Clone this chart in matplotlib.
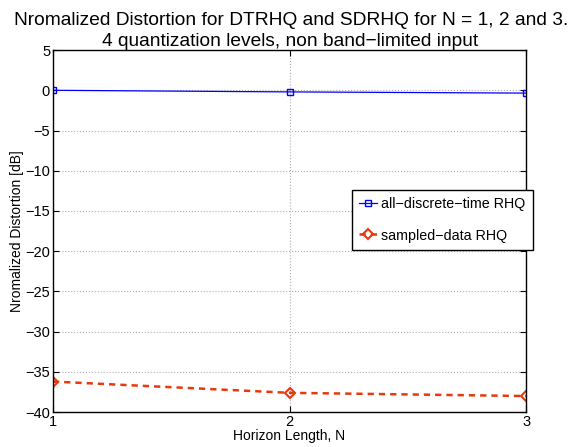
import numpy as np
import matplotlib
matplotlib.use("Agg")
import matplotlib.pyplot as plt

plt.rcParams['font.family'] = ['Liberation Sans', 'DejaVu Sans']

horizon = [1, 2, 3]
dt_rhq = [0.0, -0.2, -0.35]
sd_rhq = [-36.2, -37.6, -38.0]
yticks = np.arange(-40, 6, 5)
title_lines = ['Nromalized Distortion for DTRHQ and SDRHQ for N = 1, 2 and 3.',
               '4 quantization levels, non band\u2212limited input']

fig = plt.figure(figsize=(5.75, 4.47), dpi=100)
ax = fig.add_axes([0.092, 0.078, 0.823, 0.81])

ax.plot(horizon, dt_rhq, color='blue', lw=0.9, marker='s', ms=4,
        mfc='none', mec='blue', mew=1.0, label='all\u2212discrete\u2212time RHQ')
ax.plot(horizon, sd_rhq, color='#e8380d', lw=1.8, ls=(0, (2.5, 2)), marker='D',
        ms=5, mfc='none', mec='#e8380d', mew=1.5, label='sampled\u2212data RHQ')

ax.set_xlim(1, 3)
ax.set_ylim(-40, 5)
ax.set_xticks(horizon)
ax.set_yticks(yticks)
ax.set_yticklabels([str(v).replace('-', '\u2212') for v in yticks])
ax.grid(True, ls=':', color='#b0b0b0', lw=0.8)
ax.tick_params(direction='in', length=4, labelsize=10.5, pad=2, top=True, right=True)
for s in ax.spines.values():
    s.set_linewidth(1.0)

ax.set_xlabel('Horizon Length, N', fontsize=10, labelpad=0)
ax.set_ylabel('Nromalized Distortion [dB]', fontsize=10, labelpad=1)

# two title lines as separate texts (baselines at ~25 px and ~46 px from top)
fig.text(0.507, 1 - 25 / 447, title_lines[0], fontsize=13.8, ha='center', va='baseline')
fig.text(0.505, 1 - 46 / 447, title_lines[1], fontsize=13.8, ha='center', va='baseline')

leg = ax.legend(loc='upper left', bbox_to_anchor=(0.632, 0.613), fontsize=10.3,
                frameon=True, fancybox=False, framealpha=1, edgecolor='black',
                handlelength=1.25, handletextpad=0.3, borderpad=0.5,
                labelspacing=1.2, borderaxespad=0)
leg.get_frame().set_linewidth(1.0)

fig.savefig('out.png', dpi=100)
